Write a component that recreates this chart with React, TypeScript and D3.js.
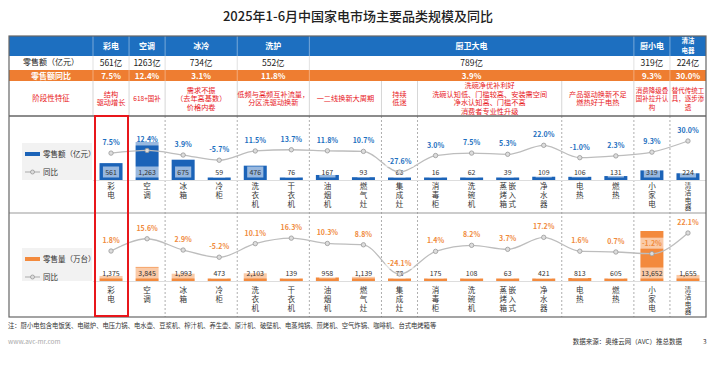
import * as d3 from 'd3';

const categories = ['彩电', '空调', '冰箱', '冷柜', '洗衣机', '干衣机', '油烟机', '燃气灶', '集成灶', '消毒柜', '洗碗机', '嵌入式蒸烤箱', '净水器', '电热', '燃热', '小家电', '清洁电器'];
const categoryColumns = [['彩电'], ['空调'], ['冰箱'], ['冷柜'], ['洗衣机'], ['干衣机'], ['油烟机'], ['燃气灶'], ['集成灶'], ['消毒柜'], ['洗碗机'], ['蒸烤箱', '嵌入式'], ['净水器'], ['电热'], ['燃热'], ['小家电'], ['清洁电器']];

const amountValues = [561, 1263, 675, 59, 476, 76, 167, 93, 66, 16, 62, 39, 109, 106, 131, 319, 224];
const amountYoY = [7.5, 12.4, 3.9, -5.7, 11.5, 13.7, 11.8, 10.7, -27.6, 3.0, 7.5, 5.3, 22.0, -1.0, 2.3, 9.3, 30.0];
const volumeValues = [1375, 3845, 1993, 473, 2103, 139, 958, 1139, 78, 175, 108, 63, 421, 813, 605, 13652, 1655];
const volumeYoY = [1.8, 15.6, 2.9, -5.2, 10.1, 16.3, 10.3, 8.8, -24.1, 1.4, 8.2, 3.7, 17.2, 1.6, 0.7, -1.2, 22.1];

const groupNames = [['彩电'], ['空调'], ['冰冷'], ['洗护'], ['厨卫大电'], ['厨小电'], ['清洁', '电器']];
const groupFirst = [0, 1, 2, 4, 6, 15, 16];
const groupLast = [0, 1, 3, 5, 14, 15, 16];
const groupAmount = ['561亿', '1263亿', '734亿', '552亿', '789亿', '319亿', '224亿'];
const groupYoY = ['7.5%', '12.4%', '3.1%', '11.8%', '3.9%', '9.3%', '30.0%'];

const featureFirst = [0, 1, 2, 4, 6, 8, 9, 13, 15, 16];
const featureLast = [0, 1, 3, 5, 7, 8, 12, 14, 15, 16];
const featureTexts = [
  ['结构', '驱动增长'],
  ['618+国补'],
  ['需求不振', '（去年高基数）', '价格内卷'],
  ['低频与高频互补流量，', '分区洗驱动换新'],
  ['一二线换新大周期'],
  ['持续', '低迷'],
  ['洗碗净优补利好', '洗碗认知低、门槛较高、安装需空间', '净水认知高、门槛不高', '消费者专业性升级'],
  ['产品驱动换新不足', '燃热好于电热'],
  ['消费降级叠', '国补拉升认', '构'],
  ['替代传统工', '具，逐步渗', '透'],
];

const FONT = '"Noto Sans CJK SC", "Noto Sans", sans-serif';
const BLUE = '#1d6fc0';
const ORANGE = '#ee7d31';
const RED = '#e8161b';

const L = 9;
const R = 706;

export default function App() {
  const x = d3.scaleBand<string>().domain(categories).range([93, R]).padding(0);
  const cx = (i: number) => (x(categories[i]) ?? 0) + x.bandwidth() / 2;
  const left = (i: number) => x(categories[i]) ?? 0;
  const right = (i: number) => (x(categories[i]) ?? 0) + x.bandwidth();

  const yBar1 = d3.scaleLinear().domain([0, 1263]).range([180, 142]);
  const yLine1 = d3.scaleLinear().domain([-27.6, 30]).range([172, 141]);
  const yBar2 = d3.scaleLinear().domain([0, 13652]).range([281, 231]);
  const yLine2 = d3.scaleLinear().domain([-24.1, 22.1]).range([274, 233]);

  const fmtPct = (v: number) => `${v.toFixed(1)}%`;
  const fmtNum = d3.format(',');
  const barW = 23;

  const line1 = d3
    .line<number>()
    .x((_d, i) => cx(i))
    .y((d) => yLine1(d))
    .curve(d3.curveMonotoneX);
  const line2 = d3
    .line<number>()
    .x((_d, i) => cx(i))
    .y((d) => yLine2(d))
    .curve(d3.curveMonotoneX);

  const labelBox = (key: string, px: number, py: number, text: string, color: string, size: number, bold: boolean) => {
    const w = text.length * size * 0.58 + 4;
    return (
      <g key={key}>
        <rect x={px - w / 2} y={py - size / 2 - 2} width={w} height={size + 4} fill="#fff" opacity={0.55} />
        <text x={px} y={py + size * 0.36} textAnchor="middle" fontSize={size} fill={color} fontWeight={bold ? 700 : 400}>
          {text}
        </text>
      </g>
    );
  };

  const chartRow = (
    key: string,
    values: number[],
    yoy: number[],
    yBar: d3.ScaleLinear<number, number>,
    yLine: d3.ScaleLinear<number, number>,
    linePath: string,
    base: number,
    valueY: number,
    color: string,
    barColor: string,
    labelTop: number,
    legendTop: number,
    legendText: string,
  ) => (
    <g key={key}>
      <rect x={22} y={legendTop} width={70} height={base - legendTop} fill="#f2f2f2" />
      <rect x={25} y={legendTop + 9} width={15} height={4} fill={barColor} />
      <text x={43} y={legendTop + 13.5} fontSize={7.5} fill="#333">{legendText}</text>
      <line x1={25} x2={40} y1={legendTop + 29} y2={legendTop + 29} stroke="#aaa" strokeWidth={1} />
      <circle cx={32.5} cy={legendTop + 29} r={2} fill="#ddd" stroke="#999" strokeWidth={0.8} />
      <text x={43} y={legendTop + 31.5} fontSize={7.5} fill="#333">同比</text>
      <line x1={93} x2={R} y1={base + 0.5} y2={base + 0.5} stroke="#ddd" strokeWidth={1} />
      {values.map((v, i) => {
        const h = Math.max(2.5, base - yBar(v));
        return <rect key={`b${i}`} x={cx(i) - barW / 2} y={base - h} width={barW} height={h} fill={barColor} />;
      })}
      {values.map((v, i) => labelBox(`v${i}`, cx(i), valueY, fmtNum(v), '#333', 7, false))}
      <path d={linePath} fill="none" stroke="#bdbdbd" strokeWidth={1.3} />
      {yoy.map((v, i) => (
        <circle key={`p${i}`} cx={cx(i)} cy={yLine(v)} r={2.2} fill="#ddd" stroke="#999" strokeWidth={0.8} />
      ))}
      {yoy.map((v, i) => labelBox(`t${i}`, cx(i), yLine(v) - 10.5, fmtPct(v), color, 7, true))}
      {categoryColumns.map((cols, i) =>
        cols.map((col, ci) => {
          const long = col.length > 3;
          const size = long ? 6.6 : 7.5;
          const gap = long ? 0.7 : 1.5;
          const off = cols.length > 1 ? (ci === 0 ? -4.5 : 4.5) : 0;
          return (
            <text
              key={`c${i}-${ci}`}
              x={cx(i) + off}
              y={labelTop - 6.8}
              fontSize={size}
              fill="#333"
              letterSpacing={gap}
              style={{ writingMode: 'vertical-rl', textOrientation: 'upright' }}
            >
              {col}
            </text>
          );
        }),
      )}
    </g>
  );

  const dashedAt = featureFirst.filter((i) => i > 1);

  return (
    <svg width={726} height={365} style={{ position: 'absolute', left: 0, top: 0, background: '#fff' }} fontFamily={FONT}>
      <rect width={726} height={365} fill="#fff" />
      <text x={358} y={21} textAnchor="middle" fontSize={13} fill="#222" fontWeight={500}>
        2025年1-6月中国家电市场主要品类规模及同比
      </text>

      {/* header */}
      <rect x={L} y={36} width={R - L} height={20} fill={BLUE} />
      <rect x={L} y={56} width={R - L} height={14} fill="#fff" />
      <rect x={L} y={70} width={R - L} height={11} fill={ORANGE} />
      <text x={51} y={65} textAnchor="middle" fontSize={8} fill="#222">零售额（亿元）</text>
      <text x={51} y={78.5} textAnchor="middle" fontSize={8} fill="#fff" fontWeight={700}>零售额同比</text>
      {groupNames.map((g, k) => {
        const gx = (left(groupFirst[k]) + right(groupLast[k])) / 2;
        const two = g.length > 1;
        return (
          <g key={`g${k}`}>
            {g.map((t, j) => (
              <text key={j} x={gx} y={two ? 43.2 + j * 9.6 : 49} textAnchor="middle" fontSize={two ? 6.5 : 8} fill="#fff" fontWeight={700}>
                {t}
              </text>
            ))}
            <text x={gx} y={66} textAnchor="middle" fontSize={8.5} fill="#222">{groupAmount[k]}</text>
            <text x={gx} y={78.5} textAnchor="middle" fontSize={8} fill="#fff" fontWeight={700}>{groupYoY[k]}</text>
            <line x1={left(groupFirst[k])} x2={left(groupFirst[k])} y1={36} y2={56} stroke="#fff" strokeOpacity={0.5} strokeWidth={0.8} />
            <line x1={left(groupFirst[k])} x2={left(groupFirst[k])} y1={56} y2={70} stroke="#ccc" strokeWidth={0.6} />
            <line x1={left(groupFirst[k])} x2={left(groupFirst[k])} y1={70} y2={81} stroke="#fff" strokeOpacity={0.6} strokeWidth={0.6} />
          </g>
        );
      })}

      {/* feature row */}
      <text x={51} y={101} textAnchor="middle" fontSize={7.5} fill={RED}>阶段性特征</text>
      {featureTexts.map((lines, k) => {
        const fx = (left(featureFirst[k]) + right(featureLast[k])) / 2;
        const narrow = featureFirst[k] === featureLast[k] && lines.some((t) => t.length > 4);
        const size = narrow ? 6.5 : 7.2;
        const lh = 8.6;
        const y0 = 98.5 - ((lines.length - 1) * lh) / 2;
        return (
          <g key={`f${k}`}>
            <line x1={left(featureFirst[k])} x2={left(featureFirst[k])} y1={81} y2={116} stroke="#bbb" strokeWidth={0.6} />
            {lines.map((t, j) => (
              <text key={j} x={fx} y={y0 + j * lh + 2.6} textAnchor="middle" fontSize={size} fill={RED}>
                {t}
              </text>
            ))}
          </g>
        );
      })}

      {/* chart rows */}
      {dashedAt.map((i) => (
        <line key={`d${i}`} x1={left(i)} x2={left(i)} y1={116} y2={317} stroke="#999" strokeWidth={0.8} strokeDasharray="2,2" />
      ))}
      {chartRow('r1', amountValues, amountYoY, yBar1, yLine1, line1(amountYoY) ?? '', 180, 172, BLUE, '#1b63b8', 189, 143, '零售额（亿元）')}
      {chartRow('r2', volumeValues, volumeYoY, yBar2, yLine2, line2(volumeYoY) ?? '', 281, 273, '#f08a3c', '#f38a3d', 293, 248, '零售量（万台）')}

      {/* frame */}
      <line x1={L} x2={R} y1={116} y2={116} stroke="#666" strokeWidth={1.5} />
      <line x1={L} x2={R} y1={213} y2={213} stroke="#999" strokeWidth={1} />
      <rect x={L} y={36} width={R - L} height={281} fill="none" stroke="#666" strokeWidth={1.2} />
      <rect x={95} y={116} width={33} height={200} fill="none" stroke="#e8161b" strokeWidth={2} />

      {/* footer */}
      <text x={8} y={328} fontSize={6.3} fill="#333">
        注：厨小电包含电饭煲、电磁炉、电压力锅、电水壶、豆浆机、榨汁机、养生壶、原汁机、破壁机、电蒸炖锅、煎烤机、空气炸锅、咖啡机、台式电烤箱等
      </text>
      <text x={8} y={344} fontSize={6.5} fill="#aaa">www.avc-mr.com</text>
      <text x={682} y={344} textAnchor="end" fontSize={6.5} fill="#333">数据来源：奥维云网（AVC）推总数据</text>
      <text x={703} y={344} fontSize={6.5} fill="#333">3</text>
    </svg>
  );
}
